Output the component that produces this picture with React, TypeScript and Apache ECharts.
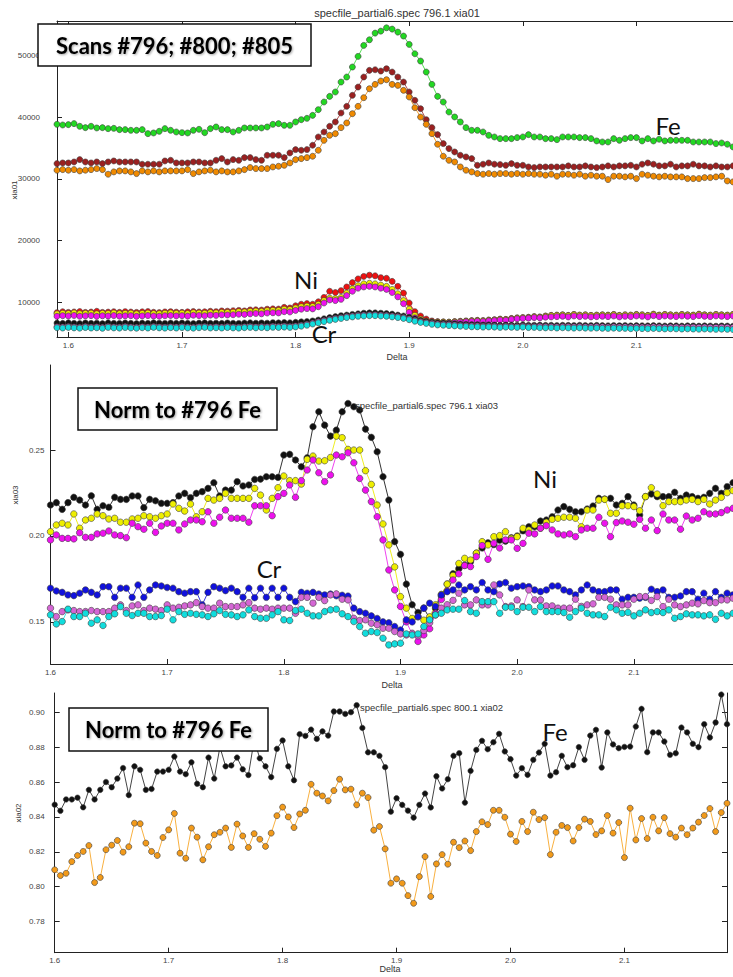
import React, { useEffect, useRef } from "react";
import * as echarts from "echarts";

// Scan positions (Delta), shared by all panels
const DELTA = [
  1.590, 1.595, 1.600, 1.605, 1.610, 1.615, 1.620, 1.625, 1.630, 1.635,
  1.640, 1.645, 1.650, 1.655, 1.660, 1.665, 1.670, 1.675, 1.680, 1.685,
  1.690, 1.695, 1.700, 1.705, 1.710, 1.715, 1.720, 1.725, 1.730, 1.735,
  1.740, 1.745, 1.750, 1.755, 1.760, 1.765, 1.770, 1.775, 1.780, 1.785,
  1.790, 1.795, 1.800, 1.805, 1.810, 1.815, 1.820, 1.825, 1.830, 1.835,
  1.840, 1.845, 1.850, 1.855, 1.860, 1.865, 1.870, 1.875, 1.880, 1.885,
  1.890, 1.895, 1.900, 1.905, 1.910, 1.915, 1.920, 1.925, 1.930, 1.935,
  1.940, 1.945, 1.950, 1.955, 1.960, 1.965, 1.970, 1.975, 1.980, 1.985,
  1.990, 1.995, 2.000, 2.005, 2.010, 2.015, 2.020, 2.025, 2.030, 2.035,
  2.040, 2.045, 2.050, 2.055, 2.060, 2.065, 2.070, 2.075, 2.080, 2.085,
  2.090, 2.095, 2.100, 2.105, 2.110, 2.115, 2.120, 2.125, 2.130, 2.135,
  2.140, 2.145, 2.150, 2.155, 2.160, 2.165, 2.170, 2.175, 2.180, 2.185,
  2.190,
];

const X_TICKS = [1.6, 1.7, 1.8, 1.9, 2.0, 2.1];
const Y_TICKS_TOP = [10000, 20000, 30000, 40000, 50000];
const Y_TICKS_MID = [0.15, 0.2, 0.25];
const Y_TICKS_BOT = [0.78, 0.8, 0.82, 0.84, 0.86, 0.88, 0.9];

// ---- Top panel: xia01 raw counts (Delta 1.590 .. 2.185) ----
const FE_796 = [
  38820, 38710, 38770, 38930, 38500, 38280, 38500, 38230, 38280, 38120,
  38170, 37960, 37960, 37850, 37850, 37960, 37310, 37420, 37690, 38120,
  37850, 37580, 37470, 37420, 37850, 38010, 37470, 38120, 38390, 37960,
  37960, 37580, 37850, 38230, 38230, 38230, 38230, 38390, 38820, 38930,
  38660, 38660, 39200, 39570, 39790, 40270, 41190, 42430, 43340, 44050,
  45660, 46470, 48090, 49810, 51590, 52500, 53580, 53900, 54440, 54230,
  53740,
  53100, 51750, 50240, 49060, 47280, 45280, 43340, 42430, 40810, 40010,
  39200, 38280, 37850, 37850, 37580, 37040, 36770, 36500, 36500, 36500,
  36670, 36770, 37150, 36770, 36770, 36500, 36500, 36340, 36770, 36770,
  36770, 36670, 36670, 36500, 36130, 35960, 35960, 36500, 36230, 36500,
  36670, 36670, 36130, 36500, 36130, 36400, 36130, 36230, 36230, 36230,
  36230, 35960, 35960, 35960, 35960, 35700, 35800, 35590, 35160,
];
const FE_800 = [
  32460, 32570, 32570, 32730, 33110, 32730, 32570, 32730, 32460, 32730,
  32890, 32730, 32730, 32730, 32730, 32360, 32360, 32360, 32360, 32890,
  33000, 32570, 32570, 32570, 32730, 32730, 32570, 32570, 33000, 33270,
  32730, 33110, 33000, 33430, 33430, 33110, 33000, 33810, 33810, 33810,
  33430, 34190, 34730, 34620, 34730, 35430, 36770, 37580, 38500, 39200,
  40650, 41730, 43510, 44850, 46470, 47550, 47650, 47440, 47820, 47280,
  46470,
  45660, 44050, 42700, 41350, 39570, 38280, 37150, 35700, 34890, 34350,
  33810, 33540, 33270, 32190, 32360, 32570, 32360, 32300, 32190, 32460,
  32190, 32190, 31920, 31820, 31920, 31920, 31920, 31920, 31920, 32090,
  31920, 31920, 32090, 31920, 31820, 31920, 32090, 31920, 32090, 32090,
  32190, 31920, 32360, 32570, 32360, 32090, 32090, 32360, 31920, 32090,
  32090, 32360, 32090, 32090, 31920, 32090, 31920, 31920, 32090,
];
const FE_805 = [
  31390, 31490, 31390, 31490, 31280, 31390, 31490, 31660, 31490, 30740,
  31120, 31280, 31280, 31120, 30850, 31280, 31120, 31280, 31120, 31280,
  31280, 31280, 31280, 31490, 30850, 31120, 31280, 31390, 31120, 31280,
  31120, 31120, 31280, 31490, 31820, 31660, 31660, 31660, 31920, 32030,
  32190, 32570, 33110, 33270, 33430, 33650, 34620, 36230, 37040, 37310,
  38280, 39040, 40540, 41730, 43130, 44580, 45280, 45820, 46040, 45280,
  45120,
  44320, 43240, 41510, 40000, 38820, 37310, 35590, 33650, 33000, 32730,
  31920, 31390, 31120, 30850, 30740, 30850, 30740, 30850, 30850, 30740,
  30850, 30740, 30850, 30740, 30740, 30580, 30740, 30420, 30740, 30740,
  30580, 30740, 30420, 30580, 30420, 30420, 29880, 30420, 30420, 30310,
  30420, 30040, 30740, 30580, 30420, 30310, 30420, 30310, 30310, 30310,
  30040, 30040, 30040, 30200, 30200, 30310, 30420, 29660, 29500,
];
const NI_796 = [
  8330, 8490, 8380, 8450, 8520, 8380, 8440, 8560, 8380, 8430,
  8490, 8390, 8500, 8440, 8380, 8470, 8520, 8400, 8350, 8460,
  8500, 8420, 8390, 8470, 8530, 8450, 8480, 8560, 8500, 8620,
  8580,
  8650, 8700, 8620, 8780, 8800, 8760, 8900, 8950, 8920, 9200, 9100, 9450,
  9700, 9800, 9700, 10100, 10800, 11800, 11600, 11900, 12500, 13200,
  13800, 14200, 14400, 14300, 14000, 13900, 13400, 12600, 11500, 9900,
  8500, 7800, 7300, 7000, 6900, 6850, 6800, 6900, 6950, 7000,
  7050, 7100, 7050, 7150, 7200, 7300, 7250, 7400, 7500, 7550,
  7600, 7700, 7650, 7800, 7900, 7950, 8000, 7900, 8050, 7950,
  8000, 7900, 7950, 8000, 7950, 8050, 7900, 8000, 7950, 8050,
  8000, 7900, 8100, 7950, 8050, 8000, 7950, 8050, 8000, 7950,
  8100, 8000, 7950, 8050, 8000, 7950, 8050,
];
const NI_800 = [
  8150, 8250, 8200, 8300, 8180, 8230, 8270, 8160, 8240, 8200,
  8290, 8180, 8230, 8260, 8150, 8220, 8280, 8200, 8170, 8250,
  8300, 8220, 8260, 8190, 8330, 8280, 8250, 8350, 8300, 8400,
  8380,
  8420, 8500, 8460, 8560, 8600, 8550, 8680, 8720, 8700, 8900, 8850, 9100,
  9300, 9400, 9350, 9700, 10300, 10700, 10600, 10800, 11500, 12200,
  12700, 13000, 13100, 13000, 12800, 12600, 12100, 11400, 10300, 8900,
  7900, 7300, 7000, 6850, 6800, 6800, 6800, 6850, 6900, 6950,
  7000, 7050, 7000, 7100, 7150, 7250, 7200, 7350, 7450, 7500,
  7550, 7650, 7600, 7750, 7850, 7900, 7950, 7850, 8000, 7900,
  7950, 7850, 7900, 7950, 7900, 8000, 7850, 7950, 7900, 8000,
  7950, 7850, 8050, 7900, 8000, 7950, 7900, 8000, 7950, 7900,
  8050, 7950, 7900, 8000, 7950, 7900, 8000,
];
const NI_805 = [
  7750, 7850, 7800, 7880, 7760, 7820, 7860, 7740, 7830, 7790,
  7870, 7770, 7820, 7850, 7740, 7810, 7870, 7790, 7760, 7840,
  7880, 7810, 7850, 7780, 7920, 7870, 7840, 7940, 7890, 7990,
  7970,
  8000, 8080, 8050, 8150, 8200, 8150, 8280, 8320, 8300, 8500, 8450, 8700,
  8900, 9000, 8950, 9300, 9900, 10400, 10300, 10500, 11100, 11800,
  12300, 12500, 12600, 12500, 12300, 12100, 11600, 10900, 9800, 8400,
  7500, 7000, 6800, 6700, 6650, 6650, 6700, 6750, 6800, 6850,
  6900, 6950, 6900, 7000, 7050, 7150, 7100, 7250, 7350, 7400,
  7450, 7550, 7500, 7600, 7650, 7700, 7750, 7650, 7800, 7700,
  7750, 7650, 7700, 7750, 7700, 7800, 7650, 7750, 7700, 7800,
  7750, 7650, 7850, 7700, 7800, 7750, 7700, 7800, 7750, 7700,
  7850, 7750, 7700, 7800, 7750, 7700, 7800,
];
const CR_796 = [
  6650, 6600, 6700, 6620, 6580, 6680, 6600, 6640, 6560, 6700,
  6620, 6590, 6680, 6610, 6570, 6650, 6600, 6700, 6630, 6590,
  6660, 6600, 6680, 6620, 6580, 6650, 6700, 6610, 6640, 6600,
  6680, 6620, 6590, 6660, 6700, 6630, 6680, 6640, 6720, 6690,
  6750, 6700, 6780,
  6850, 6900, 7000, 7150, 7350, 7550, 7700, 7850, 7950, 8050,
  8150, 8250, 8300, 8300, 8250, 8200, 8100, 7950, 7800, 7600,
  7350, 7100, 6950, 6800, 6700, 6650, 6600, 6550, 6500, 6450,
  6400, 6400, 6350, 6380, 6350, 6300, 6350, 6320, 6300, 6350,
  6280, 6300, 6320, 6280, 6300, 6250, 6300, 6280, 6250, 6300,
  6260, 6240, 6280, 6250, 6220, 6260, 6230, 6250, 6200, 6240,
  6220, 6200, 6250, 6210, 6180, 6220, 6200, 6170, 6210, 6190,
  6160, 6200, 6180, 6150, 6190, 6170, 6140,
];
const CR_800 = [
  6050, 6000, 6100, 6020, 5980, 6080, 6000, 6040, 5960, 6100,
  6020, 5990, 6080, 6010, 5970, 6050, 6000, 6100, 6030, 5990,
  6060, 6000, 6080, 6020, 5980, 6050, 6100, 6010, 6040, 6000,
  6080, 6020, 5990, 6060, 6100, 6030, 6080, 6040, 6120, 6090,
  6150, 6100, 6180,
  6300, 6450, 6650, 6850, 7050, 7250, 7400, 7550, 7700, 7800,
  7900, 7950, 8000, 8000, 7950, 7900, 7800, 7700, 7550, 7350,
  7100, 6900, 6750, 6600, 6500, 6450, 6400, 6350, 6300, 6250,
  6200, 6200, 6150, 6180, 6150, 6100, 6150, 6120, 6100, 6150,
  6080, 6100, 6120, 6080, 6100, 6050, 6100, 6080, 6050, 6100,
  6060, 6040, 6080, 6050, 6020, 6060, 6030, 6050, 6000, 6040,
  6020, 6000, 6050, 6010, 5980, 6020, 6000, 5970, 6010, 5990,
  5960, 6000, 5980, 5950, 5990, 5970, 5940,
];
const CR_805 = [
  5900, 5850, 5950, 5870, 5830, 5930, 5850, 5890, 5810, 5950,
  5870, 5840, 5930, 5860, 5820, 5900, 5850, 5950, 5880, 5840,
  5910, 5850, 5930, 5870, 5830, 5900, 5950, 5860, 5890, 5850,
  5930, 5870, 5840, 5910, 5950, 5880, 5930, 5890, 5970, 5940,
  6000, 5950, 6030,
  6150, 6300, 6500, 6700, 6900, 7100, 7250, 7400, 7550, 7650,
  7750, 7800, 7850, 7850, 7800, 7750, 7650, 7550, 7400, 7200,
  6950, 6750, 6600, 6450, 6350, 6300, 6250, 6200, 6150, 6100,
  6050, 6050, 6000, 6030, 6000, 5950, 6000, 5970, 5950, 6000,
  5930, 5950, 5900, 5880, 5900, 5850, 5900, 5870, 5840, 5880,
  5840, 5820, 5850, 5810, 5790, 5830, 5790, 5800, 5750, 5790,
  5760, 5740, 5780, 5740, 5710, 5740, 5720, 5690, 5720, 5690,
  5660, 5700, 5670, 5640, 5670, 5640, 5610,
];

// ---- Middle panel: xia03 normalised (Delta 1.600 .. 2.185) ----
const MID_NI_BLACK = [
  0.218, 0.2194, 0.2155, 0.2194, 0.2225, 0.2209, 0.218, 0.2234, 0.2155, 0.2176,
  0.2167, 0.2225, 0.2213, 0.2213, 0.2233, 0.2233, 0.2165, 0.2213, 0.2205, 0.219,
  0.219, 0.2194, 0.2233, 0.2248, 0.2223, 0.2248, 0.2258, 0.2277, 0.231, 0.2233,
  0.2267, 0.2267, 0.2316, 0.2291, 0.2297, 0.2329, 0.2331, 0.2345, 0.2345, 0.2341,
  0.2471, 0.2475, 0.2442, 0.2403, 0.2455, 0.2636, 0.2723, 0.2645, 0.2581, 0.2616,
  0.2723, 0.2771, 0.2752, 0.2733, 0.2622, 0.2574, 0.249, 0.2345, 0.2209,
  0.1967, 0.1893, 0.172, 0.16, 0.1555, 0.158, 0.152, 0.158, 0.165, 0.172,
  0.178, 0.181, 0.183, 0.185, 0.19, 0.193, 0.196, 0.195, 0.1975, 0.197,
  0.199, 0.2, 0.203, 0.2054, 0.2054, 0.2087, 0.2093, 0.2112, 0.2151, 0.2171,
  0.2155, 0.2141, 0.2141, 0.2157, 0.2174, 0.2219, 0.2215, 0.2219, 0.218, 0.219,
  0.2229, 0.218, 0.2122, 0.2229, 0.2244, 0.2229, 0.2229, 0.2229, 0.2254, 0.2219,
  0.2238, 0.2229, 0.2219, 0.2225, 0.2248, 0.2277, 0.2248, 0.2287, 0.231,
];
const MID_NI_YELLOW = [
  0.2025, 0.2064, 0.2074, 0.2064, 0.2128, 0.2045, 0.2093, 0.2103, 0.2128, 0.2118,
  0.2099, 0.2103, 0.208, 0.208, 0.2099, 0.2103, 0.2118, 0.2112, 0.2103, 0.2118,
  0.2128, 0.2186, 0.2161, 0.2145, 0.2186, 0.2112, 0.2141, 0.2219, 0.2209, 0.2219,
  0.2248, 0.2219, 0.2219, 0.2219, 0.2219, 0.2277, 0.2238, 0.2151, 0.2219, 0.2281,
  0.2349, 0.2322, 0.2322, 0.2302, 0.2446, 0.2465, 0.2436, 0.2438, 0.2457, 0.2581,
  0.2572, 0.2504, 0.25, 0.25, 0.238, 0.23, 0.218, 0.207, 0.1948,
  0.182, 0.1647, 0.158, 0.152, 0.153, 0.151, 0.153, 0.16, 0.166, 0.172,
  0.177, 0.184, 0.187, 0.186, 0.19, 0.1967, 0.1948, 0.1996, 0.2002, 0.2025,
  0.1986, 0.1996, 0.2045, 0.2035, 0.2064, 0.2045, 0.208, 0.2097, 0.2103, 0.2109,
  0.2109, 0.2103, 0.2054, 0.2151, 0.2151, 0.2209, 0.2213, 0.2132, 0.2132, 0.2176,
  0.2176, 0.2171, 0.2147, 0.2229, 0.2281, 0.2244, 0.2176, 0.22, 0.22, 0.22,
  0.2209, 0.2213, 0.22, 0.2213, 0.2186, 0.2209, 0.2225, 0.2252, 0.2264,
];
const MID_NI_MAGENTA = [
  0.1977, 0.2006, 0.1986, 0.1986, 0.1983, 0.2019, 0.1992, 0.1992, 0.2012, 0.2016,
  0.2029, 0.2006, 0.2002, 0.199, 0.2074, 0.2054, 0.2039, 0.2074, 0.2021, 0.2058,
  0.2074, 0.2074, 0.2035, 0.207, 0.2093, 0.2093, 0.2083, 0.2141, 0.2074, 0.2109,
  0.2151, 0.2103, 0.2103, 0.2103, 0.208, 0.2176, 0.2176, 0.2176, 0.2118, 0.2229,
  0.2248, 0.2297, 0.2225, 0.2322, 0.2384, 0.2442, 0.2368, 0.2316, 0.2355, 0.2471,
  0.2461, 0.2484, 0.2426, 0.2335, 0.2267, 0.22, 0.2112, 0.1977, 0.1802,
  0.1686, 0.159, 0.15, 0.143, 0.1386, 0.1424, 0.146, 0.155, 0.163, 0.168,
  0.1744, 0.178, 0.1828, 0.1822, 0.188, 0.1944, 0.1864, 0.1957, 0.193, 0.1977,
  0.1977, 0.1928, 0.1957, 0.2016, 0.2012, 0.2045, 0.206, 0.2035, 0.2012, 0.2006,
  0.2012, 0.1996, 0.2035, 0.2045, 0.2045, 0.2109, 0.2074, 0.1996, 0.2078, 0.2087,
  0.208, 0.2068, 0.2097, 0.2045, 0.2093, 0.2031, 0.2128, 0.2093, 0.2093, 0.2039,
  0.2116, 0.2093, 0.2103, 0.2141, 0.2128, 0.2128, 0.2136, 0.2151, 0.2161,
];
const MID_CR_BLUE = [
  0.1696, 0.168, 0.1672, 0.1657, 0.1653, 0.1667, 0.1686, 0.1672, 0.1657, 0.1705,
  0.1705, 0.1643, 0.1696, 0.1696, 0.1643, 0.1715, 0.1643, 0.1686, 0.1715, 0.1709,
  0.17, 0.1696, 0.1676, 0.1667, 0.1676, 0.1676, 0.1599, 0.1672, 0.1705, 0.1696,
  0.1682, 0.1696, 0.1676, 0.1643, 0.1696, 0.1641, 0.1696, 0.1643, 0.1696, 0.1643,
  0.1696, 0.1643, 0.1618, 0.1672, 0.1667, 0.1672, 0.1662, 0.1657, 0.1662, 0.1652,
  0.1655, 0.165, 0.158, 0.156, 0.155, 0.1535, 0.152, 0.15, 0.1495,
  0.1473, 0.1453, 0.1512, 0.15, 0.153, 0.158, 0.1609, 0.159, 0.1657, 0.1676,
  0.1686, 0.1715, 0.1686, 0.1705, 0.1686, 0.1729, 0.1686, 0.1676, 0.1721, 0.1729,
  0.1696, 0.1705, 0.1709, 0.1705, 0.1686, 0.1676, 0.1686, 0.1709, 0.1709, 0.1686,
  0.1676, 0.1657, 0.1686, 0.1715, 0.1686, 0.1676, 0.1676, 0.1686, 0.1686, 0.1632,
  0.1643, 0.1643, 0.1638, 0.1643, 0.169, 0.1676, 0.1686, 0.1643, 0.1643, 0.1651,
  0.1676, 0.1676, 0.1632, 0.1667, 0.1632, 0.1676, 0.1643, 0.1667, 0.1657,
];
const MID_CR_ORCHID = [
  0.158, 0.1531, 0.156, 0.157, 0.1566, 0.156, 0.156, 0.1566, 0.156, 0.156,
  0.156, 0.158, 0.1599, 0.1566, 0.1593, 0.1599, 0.1566, 0.158, 0.1574, 0.1566,
  0.1599, 0.158, 0.1585, 0.1593, 0.1599, 0.1612, 0.1589, 0.158, 0.158, 0.1609,
  0.1589, 0.1589, 0.1589, 0.1599, 0.1612, 0.158, 0.1574, 0.158, 0.1574, 0.158,
  0.158, 0.158, 0.155, 0.1643, 0.1643, 0.1609, 0.1643, 0.1624, 0.1657, 0.1663,
  0.1632, 0.1628, 0.1521, 0.1508, 0.1512, 0.1492, 0.1483, 0.1463, 0.1463,
  0.1444, 0.143, 0.1424, 0.1434, 0.1419, 0.145, 0.1495, 0.154, 0.158, 0.16,
  0.1625, 0.1667, 0.1599, 0.1599, 0.1628, 0.1599, 0.1599, 0.1715, 0.1657, 0.1589,
  0.1593, 0.1628, 0.1589, 0.1686, 0.1628, 0.1628, 0.1593, 0.1593, 0.158, 0.158,
  0.158, 0.1632, 0.159, 0.1599, 0.1605, 0.1643, 0.1643, 0.1632, 0.1599, 0.1599,
  0.1599, 0.1632, 0.1647, 0.1647, 0.1625, 0.1647, 0.1589, 0.1632, 0.1599, 0.1589,
  0.1599, 0.1609, 0.1605, 0.1624, 0.1612, 0.1612, 0.1628, 0.1628, 0.1638,
];
const MID_CR_CYAN = [
  0.1541, 0.1488, 0.1502, 0.1574, 0.1531, 0.1531, 0.155, 0.1492, 0.1512, 0.1479,
  0.1531, 0.1547, 0.1589, 0.155, 0.1537, 0.155, 0.155, 0.1531, 0.1531, 0.1537,
  0.1574, 0.1512, 0.156, 0.1544, 0.155, 0.1544, 0.1541, 0.1531, 0.1547, 0.1566,
  0.1544, 0.1541, 0.1531, 0.1541, 0.157, 0.1531, 0.1521, 0.1521, 0.1541, 0.156,
  0.1512, 0.1508, 0.1566, 0.1574, 0.155, 0.1535, 0.1535, 0.156, 0.157, 0.1574,
  0.1547, 0.1531, 0.1502, 0.1473, 0.1434, 0.1444, 0.1438, 0.1405, 0.1366,
  0.1372, 0.1376, 0.143, 0.1424, 0.143, 0.1473, 0.1512, 0.1541, 0.155, 0.157,
  0.1574, 0.1574, 0.1624, 0.156, 0.155, 0.1618, 0.1618, 0.1618, 0.155, 0.1585,
  0.1585, 0.156, 0.1585, 0.1585, 0.156, 0.1589, 0.156, 0.156, 0.156, 0.1554,
  0.1527, 0.156, 0.158, 0.155, 0.1541, 0.1541, 0.1531, 0.1585, 0.157, 0.155,
  0.1555, 0.1535, 0.155, 0.157, 0.1554, 0.156, 0.1554, 0.157, 0.1521, 0.1531,
  0.1547, 0.1541, 0.1541, 0.1535, 0.1541, 0.1515, 0.155, 0.1535, 0.155,
];

// ---- Bottom panel: xia02 normalised (Delta 1.600 .. 2.190) ----
const BOT_BLACK = [
  0.847, 0.8435, 0.85, 0.85, 0.851, 0.8455, 0.8555, 0.85, 0.8555, 0.86,
  0.857, 0.862, 0.868, 0.8525, 0.869, 0.867, 0.8555, 0.856, 0.866, 0.866,
  0.867, 0.8746, 0.866, 0.8645, 0.8713, 0.859, 0.857, 0.874, 0.862, 0.88,
  0.869, 0.8695, 0.874, 0.8673, 0.864, 0.884, 0.8736, 0.869, 0.8628, 0.879,
  0.8838, 0.869, 0.861, 0.8874, 0.8864, 0.89, 0.8847, 0.889, 0.8866, 0.9004,
  0.9004, 0.899, 0.9, 0.904, 0.891, 0.877, 0.877, 0.875, 0.8685, 0.843,
  0.8507, 0.8469, 0.8436, 0.8396, 0.8469, 0.8534, 0.8454, 0.8633, 0.8563, 0.8616,
  0.875, 0.8765, 0.8482, 0.8664, 0.8784, 0.8836, 0.8788, 0.8828, 0.8876, 0.8775,
  0.8731, 0.8637, 0.8679, 0.8641, 0.8727, 0.8769, 0.8819, 0.8637, 0.8656, 0.875,
  0.8685, 0.8696, 0.88, 0.8727, 0.8866, 0.8899, 0.8683, 0.8884, 0.8815, 0.8794,
  0.8801, 0.8803, 0.8918, 0.9019, 0.8771, 0.8884, 0.8884, 0.8832, 0.8756, 0.8765,
  0.8912, 0.8884, 0.8819, 0.88, 0.8931, 0.8855, 0.8941, 0.9101, 0.8931,
];
const BOT_ORANGE = [
  0.8097, 0.8064, 0.8077, 0.8144, 0.8179, 0.8202, 0.8236, 0.8024, 0.8053, 0.8212,
  0.8238, 0.8265, 0.8198, 0.8229, 0.8364, 0.8361, 0.825, 0.8202, 0.8179, 0.8282,
  0.8326, 0.842, 0.8192, 0.8163, 0.8336, 0.8284, 0.8154, 0.8229, 0.8298, 0.8312,
  0.8336, 0.8225, 0.8359, 0.8291, 0.8225, 0.8304, 0.8272, 0.8231, 0.8307, 0.8407,
  0.8456, 0.84, 0.8339, 0.8417, 0.8438, 0.8587, 0.8536, 0.852, 0.8492, 0.8551,
  0.8616, 0.8555, 0.8559, 0.8469, 0.8536, 0.8511, 0.8324, 0.8345, 0.8217, 0.802,
  0.8045, 0.802, 0.7949, 0.7905, 0.8058, 0.8173, 0.7944, 0.8131, 0.8184, 0.8129,
  0.8255, 0.8224, 0.8262, 0.8207, 0.8316, 0.8372, 0.8356, 0.8438, 0.8438, 0.8398,
  0.8301, 0.8259, 0.8374, 0.8316, 0.8427, 0.8385, 0.8396, 0.8184, 0.8312, 0.8351,
  0.8339, 0.8262, 0.8339, 0.8387, 0.8374, 0.8299, 0.832, 0.8408, 0.8307, 0.8368,
  0.8167, 0.845, 0.8268, 0.8391, 0.8276, 0.8398, 0.832, 0.8396, 0.8304, 0.8284,
  0.8336, 0.8298, 0.8336, 0.837, 0.8408, 0.8448, 0.8316, 0.8425, 0.8478,
];

const SANS = "'Liberation Sans', Arial, 'DejaVu Sans', sans-serif";
const CAL = "Lato, 'Open Sans', sans-serif";

function mkSeries(vals: number[], off: number, gi: number, fill: string, line: string, size: number) {
  return {
    type: "line",
    xAxisIndex: gi,
    yAxisIndex: gi,
    data: vals.map((v, i) => [DELTA[i + off], v]),
    symbol: "circle",
    symbolSize: size,
    showSymbol: true,
    lineStyle: { color: line, width: 1 },
    itemStyle: { color: fill, borderColor: "#3c3c3c", borderWidth: 0.6 },
    emphasis: { disabled: true },
    silent: true,
  };
}

function xAx(gridIndex: number, min: number, max: number, position = "bottom", labels = true) {
  return {
    type: "value",
    gridIndex,
    min,
    max,
    position,
    axisLine: { show: true, onZero: false, lineStyle: { color: "#222", width: 1 } },
    axisTick: { show: true, inside: true, length: 5, customValues: X_TICKS, lineStyle: { color: "#222" } },
    axisLabel: {
      show: labels,
      customValues: X_TICKS,
      formatter: (v: number) => v.toFixed(1),
      fontSize: 8,
      color: "#444",
      margin: 4,
      fontFamily: SANS,
    },
    splitLine: { show: false },
  };
}

function yAx(gridIndex: number, min: number, max: number, ticks: number[], fmt: (v: number) => string, margin: number, position = "left", labels = true) {
  return {
    type: "value",
    gridIndex,
    min,
    max,
    position,
    axisLine: { show: true, onZero: false, lineStyle: { color: "#222", width: 1 } },
    axisTick: { show: true, inside: true, length: 5, customValues: ticks, lineStyle: { color: "#222" } },
    axisLabel: {
      show: labels,
      customValues: ticks,
      formatter: fmt,
      fontSize: 8,
      color: "#444",
      margin,
      fontFamily: SANS,
    },
    splitLine: { show: false },
  };
}

function txt(text: string, x: number, y: number, size: number, opts: any = {}) {
  return {
    type: "text",
    x,
    y,
    z: 100,
    rotation: opts.rotation || 0,
    silent: true,
    style: {
      text,
      fontSize: size,
      fontFamily: opts.family || SANS,
      fontWeight: opts.weight || "normal",
      fill: opts.fill || "#333",
      align: opts.align || "center",
      verticalAlign: "middle",
      textShadowColor: opts.shadow ? "rgba(0,0,0,0.35)" : "transparent",
      textShadowBlur: opts.shadow ? 2 : 0,
      textShadowOffsetX: opts.shadow ? 1 : 0,
      textShadowOffsetY: opts.shadow ? 1 : 0,
    },
  };
}

function box(x: number, y: number, w: number, h: number) {
  return {
    type: "rect",
    z: 99,
    silent: true,
    shape: { x, y, width: w, height: h },
    style: { fill: "#fff", stroke: "#111", lineWidth: 1.5 },
  };
}

export default function App() {
  const ref = useRef<HTMLDivElement>(null);
  useEffect(() => {
    if (!ref.current) return;
    const chart = echarts.init(ref.current, null, { renderer: "svg" });
    const option = {
      animation: false,
      backgroundColor: "#fff",
      grid: [
        { left: 57, top: 21, width: 676, height: 316 },
        { left: 50.5, top: 365, width: 682.5, height: 299 },
        { left: 54.7, top: 693, width: 672.3, height: 259.7 },
      ],
      xAxis: [
        xAx(0, 1.59, 2.185),
        xAx(1, 1.6, 2.185),
        xAx(2, 1.6, 2.19),
        xAx(0, 1.59, 2.185, "top", false),
      ],
      yAxis: [
        yAx(0, 4400, 55540, Y_TICKS_TOP, (v) => String(Math.round(v)), 17),
        yAx(1, 0.1255, 0.2995, Y_TICKS_MID, (v) => v.toFixed(2), 6),
        yAx(2, 0.7622, 0.911, Y_TICKS_BOT, (v) => v.toFixed(2), 10),
        yAx(2, 0.7622, 0.911, Y_TICKS_BOT, (v) => v.toFixed(2), 10, "right", false),
      ],
      series: [
        mkSeries(FE_796, 0, 0, "#22d822", "#55e055", 6),
        mkSeries(FE_800, 0, 0, "#9b2020", "#b05050", 6),
        mkSeries(FE_805, 0, 0, "#f08a00", "#f5a030", 6),
        mkSeries(NI_796, 0, 0, "#ee1111", "#ee3333", 6),
        mkSeries(NI_800, 0, 0, "#eeee00", "#eeee33", 6),
        mkSeries(NI_805, 0, 0, "#ee11ee", "#ee44ee", 6),
        mkSeries(CR_796, 0, 0, "#111111", "#333333", 6),
        mkSeries(CR_800, 0, 0, "#d466d4", "#d880d8", 6),
        mkSeries(CR_805, 0, 0, "#11dddd", "#44e4e4", 6),

        mkSeries(MID_NI_BLACK, 2, 1, "#111111", "#333333", 6.5),
        mkSeries(MID_NI_YELLOW, 2, 1, "#eeee00", "#eeee22", 6.5),
        mkSeries(MID_NI_MAGENTA, 2, 1, "#ee11ee", "#ee44ee", 6.5),
        mkSeries(MID_CR_BLUE, 2, 1, "#1111dd", "#3333dd", 6.5),
        mkSeries(MID_CR_ORCHID, 2, 1, "#d466d4", "#d880d8", 6.5),
        mkSeries(MID_CR_CYAN, 2, 1, "#11dddd", "#44e8e8", 6.5),

        mkSeries(BOT_BLACK, 2, 2, "#111111", "#444444", 5.5),
        mkSeries(BOT_ORANGE, 2, 2, "#f29a1a", "#f8b040", 6),
      ],
      graphic: [
        txt("specfile_partial6.spec 796.1 xia01", 397, 13, 11),
        txt("Delta", 397, 357, 9),
        txt("xia01", 14, 190, 8, { rotation: Math.PI / 2 }),
        box(38, 24, 273, 42),
        txt("Scans #796; #800; #805", 174.5, 45, 22, { family: CAL, weight: "bold", fill: "#000", shadow: true }),
        txt("Fe", 668, 125, 24, { family: CAL, fill: "#111" }),
        txt("Ni", 306, 279, 24, { family: CAL, fill: "#111" }),
        txt("Cr", 324, 333, 24, { family: CAL, fill: "#111" }),

        txt("specfile_partial6.spec 796.1 xia03", 355, 405, 9.5, { align: "left" }),
        txt("Delta", 392, 685, 9),
        txt("xia03", 15, 495, 8, { rotation: Math.PI / 2 }),
        box(78, 388, 199, 42),
        txt("Norm to #796 Fe", 177.5, 409, 22, { family: CAL, weight: "bold", fill: "#000", shadow: true }),
        txt("Ni", 545, 478, 24, { family: CAL, fill: "#111" }),
        txt("Cr", 269, 568, 24, { family: CAL, fill: "#111" }),

        txt("specfile_partial6.spec 800.1 xia02", 360, 707, 9.5, { align: "left" }),
        txt("Delta", 390, 969, 9),
        txt("xia02", 18, 813, 8, { rotation: Math.PI / 2 }),
        box(69, 708, 199, 43),
        txt("Norm to #796 Fe", 168.5, 729.5, 22, { family: CAL, weight: "bold", fill: "#000", shadow: true }),
        txt("Fe", 555, 731, 24, { family: CAL, fill: "#111" }),
      ],
    };
    chart.setOption(option as any);
    return () => chart.dispose();
  }, []);
  return (
    <div
      ref={ref}
      style={{ position: "absolute", left: 0, top: 0, width: 733, height: 977, background: "#fff" }}
    />
  );
}
